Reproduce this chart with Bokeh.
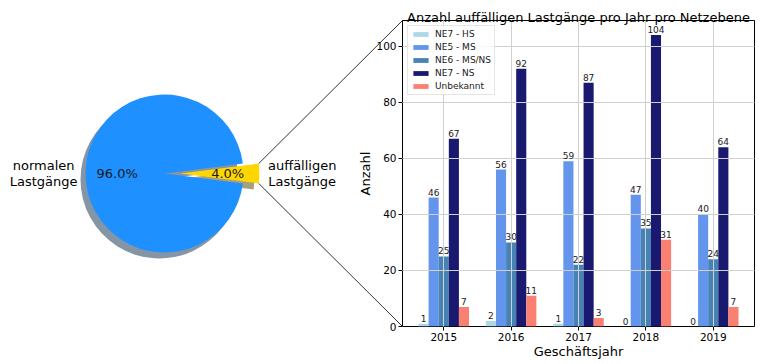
import numpy as np
from bokeh.plotting import figure
from bokeh.models import Range1d, FixedTicker, Legend, LegendItem
from bokeh.core.properties import value
from bokeh.embed import file_html
from bokeh.resources import INLINE

# ---------------- data ----------------
years = [2015, 2016, 2017, 2018, 2019]
series_names = ["NE7 - HS", "NE5 - MS", "NE6 - MS/NS", "NE7 - NS", "Unbekannt"]
ne7_hs = [1, 2, 1, 0, 0]
ne5_ms = [46, 56, 59, 47, 40]
ne6_msns = [25, 30, 22, 35, 24]
ne7_ns = [67, 92, 87, 104, 64]
unbekannt = [7, 11, 3, 31, 7]
series_colors = ["lightblue", "cornflowerblue", "steelblue", "midnightblue", "salmon"]
y_ticks = [0, 20, 40, 60, 80, 100]

pie_labels = ["normalen\nLastgänge", "auffälligen\nLastgänge"]
pie_shares = [96.0, 4.0]
pie_colors = ["dodgerblue", "gold"]
pie_shadow_colors = ["#8495a5", "#a59f7f"]
pie_explode = [0.0, 0.2]

title_text = "Anzahl auffälligen Lastgänge pro Jahr pro Netzebene"
x_label = "Geschäftsjahr"
y_label = "Anzahl"

# ---------------- layout / style ----------------
FONT = "DejaVu Sans"
W, H = 760, 364
FL, FR, FT, FB = 402, 754, 20, 326      # frame edges (canvas px)
PIE_CX, PIE_CY, PIE_R = 164, 173, 79     # pie centre / radius (canvas px)

series = [ne7_hs, ne5_ms, ne6_msns, ne7_ns, unbekannt]
bar_w = 0.15
offsets = [-0.3, -0.15, 0.0, 0.15, 0.3]
x_lo = years[0] + offsets[0] - bar_w / 2
x_hi = years[-1] + offsets[-1] + bar_w / 2
x_m = 0.05 * (x_hi - x_lo)
y_max = max(max(s) for s in series) * 1.05

p = figure(width=W, height=H, output_backend="svg", toolbar_location=None,
           x_range=Range1d(x_lo - x_m, x_hi + x_m), y_range=Range1d(0, y_max),
           min_border_left=FL, min_border_right=W - FR,
           min_border_top=FT, min_border_bottom=H - FB)
p.background_fill_color = "white"
p.border_fill_color = "white"
p.outline_line_color = "black"
p.outline_line_width = 1

# axes
for ax in (p.xaxis[0], p.yaxis[0]):
    ax.axis_line_color = None
    ax.major_tick_line_color = "black"
    ax.major_tick_out = 4
    ax.major_tick_in = 0
    ax.minor_tick_line_color = None
    ax.major_label_text_font = FONT
    ax.major_label_text_font_size = "10.5px"
    ax.major_label_text_color = "black"
    ax.major_label_standoff = 2
p.xaxis.ticker = FixedTicker(ticks=years)
p.yaxis.ticker = FixedTicker(ticks=y_ticks)
p.yaxis.axis_label = y_label
p.yaxis.axis_label_text_font = FONT
p.yaxis.axis_label_text_font_size = "13px"
p.yaxis.axis_label_text_font_style = "normal"
p.yaxis.axis_label_text_color = "black"
p.yaxis.axis_label_standoff = 0

for g in (p.xgrid[0], p.ygrid[0]):
    g.grid_line_color = "#d0d0d0"
    g.grid_line_width = 1
    g.level = "guide"
p.xgrid.ticker = FixedTicker(ticks=years)
p.ygrid.ticker = FixedTicker(ticks=y_ticks)

# bars + value labels
items = []
for name, vals, col, off in zip(series_names, series, series_colors, offsets):
    xs = [yv + off for yv in years]
    r = p.vbar(x=xs, top=vals, width=bar_w, fill_color=col, line_color=None)
    items.append(LegendItem(label=name, renderers=[r]))
    t = p.text(x=xs, y=vals, text=[str(v) for v in vals], text_align="center",
               text_baseline="bottom", y_offset=-2, text_font=value(FONT),
               text_font_size="9px", text_color="#1a1a1a")
    t.level = "annotation"

legend = Legend(items=items, location="top_left", margin=5, padding=3, spacing=3,
                glyph_width=19, glyph_height=6, label_height=9, label_standoff=5,
                label_text_font=FONT, label_text_font_size="9px", label_text_color="#1a1a1a",
                border_line_color="#cccccc", border_line_width=1,
                background_fill_color="white", background_fill_alpha=0.8)
p.add_layout(legend, "center")

# title and x label as unclipped text glyphs
xc = (x_lo + x_hi) / 2
tt = p.text(x=[xc], y=[y_max], text=[title_text], text_align="center",
            text_baseline="alphabetic", y_offset=-3, text_font=value(FONT),
            text_font_size="13px", text_color="black")
tt.level = "overlay"
xl = p.text(x=[xc], y=[0], text=[x_label], text_align="center",
            text_baseline="middle", y_offset=25, text_font=value(FONT),
            text_font_size="13px", text_color="black")
xl.level = "overlay"

# ---------------- pie (extra ranges mapping into the left margin) ----------------
p.extra_x_ranges = {"pie_x": Range1d((FL - PIE_CX) / PIE_R, (FR - PIE_CX) / PIE_R)}
p.extra_y_ranges = {"pie_y": Range1d((PIE_CY - FB) / PIE_R, (PIE_CY - FT) / PIE_R)}

total = sum(pie_shares)
fr = [s / total for s in pie_shares]
start = np.pi * fr[1]          # so that the small slice is centred on the right
theta = [start]
for f in fr:
    theta.append(theta[-1] + 2 * np.pi * f)
mids = [(theta[i] + theta[i + 1]) / 2 for i in range(len(fr))]
cx = [e * np.cos(m) for e, m in zip(pie_explode, mids)]
cy = [e * np.sin(m) for e, m in zip(pie_explode, mids)]
sdx, sdy = -5 / PIE_R, -6 / PIE_R

sh = p.wedge(x=[c + sdx for c in cx], y=[c + sdy for c in cy], radius=1,
             start_angle=theta[:-1], end_angle=theta[1:], fill_color=pie_shadow_colors,
             line_color=None, x_range_name="pie_x", y_range_name="pie_y")
sh.level = "overlay"
wd = p.wedge(x=cx, y=cy, radius=1, start_angle=theta[:-1], end_angle=theta[1:],
             fill_color=pie_colors, line_color=None, x_range_name="pie_x", y_range_name="pie_y")
wd.level = "overlay"

pct = [f"{s / total * 100:.1f}%" for s in pie_shares]
pt = p.text(x=[c + 0.6 * np.cos(m) for c, m in zip(cx, mids)],
            y=[c + 0.6 * np.sin(m) for c, m in zip(cy, mids)], text=pct,
            text_align="center", text_baseline="middle", text_font=value(FONT),
            text_font_size="13px", text_color="#1a1a1a", x_range_name="pie_x", y_range_name="pie_y")
pt.level = "overlay"
lx = [c + 1.1 * np.cos(m) for c, m in zip(cx, mids)]
ly = [c + 1.1 * np.sin(m) for c, m in zip(cy, mids)]
lt = p.text(x=lx, y=ly, text=pie_labels, text_align="center", text_baseline="middle",
            x_offset=[-34 if np.cos(m) < 0 else 35 for m in mids], text_line_height=1.1,
            text_font=value(FONT), text_font_size="13px", text_color="black",
            x_range_name="pie_x", y_range_name="pie_y")
lt.level = "overlay"

# connection lines from the small slice to the bar frame corners
i_small = int(np.argmin(pie_shares))
xa = cx[i_small] + np.cos(theta[i_small + 1] - 2 * np.pi)
ya_top = cy[i_small] + np.sin(theta[i_small + 1])
ya_bot = cy[i_small] + np.sin(theta[i_small])
px0 = p.extra_x_ranges["pie_x"].start
py1 = p.extra_y_ranges["pie_y"].end
py0 = p.extra_y_ranges["pie_y"].start
cl = p.segment(x0=[xa, xa], y0=[ya_top, ya_bot], x1=[px0, px0], y1=[py1, py0],
               line_color="#333333", line_width=1, x_range_name="pie_x", y_range_name="pie_y")
cl.level = "overlay"

open("out.html", "w").write(file_html(p, INLINE))
